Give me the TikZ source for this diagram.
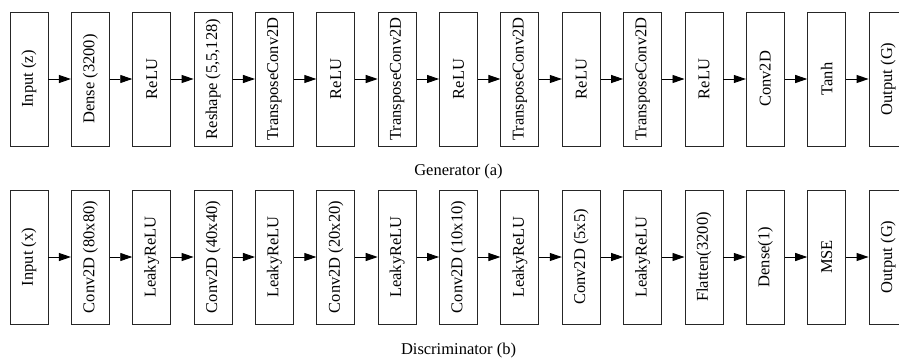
\documentclass[tikz,border=0pt]{standalone}
\usepackage{fontspec}
\setmainfont{Liberation Serif}
\usepackage{graphicx}
\usetikzlibrary{arrows.meta}
\begin{document}
\begin{tikzpicture}[x=1pt,y=1pt,
  layer/.style={draw=black!85, line width=0.9pt, fill=white, minimum width=38pt, minimum height=134pt, inner sep=0pt, font=\fontsize{16.5}{18}\selectfont},
  flow/.style={draw=black, line width=0.9pt, -{Triangle[length=12pt,width=8pt]}},
  caption/.style={font=\fontsize{16.5}{18}\selectfont, inner sep=0pt}]
\useasboundingbox (0,0) rectangle (899,360);
\clip (0,0) rectangle (899,360);
% Generator
\foreach \t [count=\i from 0] in {Input (z),Dense (3200),ReLU,{Reshape (5,5,128)},TransposeConv2D,ReLU,TransposeConv2D,ReLU,TransposeConv2D,ReLU,TransposeConv2D,ReLU,Conv2D,Tanh,Output (G)}{
  \node[layer] (g\i) at ({29+61.36*\i},281) {\rotatebox{90}{\t}};
}
\foreach \i [evaluate=\i as \j using int(\i+1)] in {0,...,13}{
  \draw[flow] (g\i.east) -- (g\j.west);
}
\node[caption] (gcap) at (458.5,188) {Generator (a)};
% Discriminator
\foreach \t [count=\i from 0] in {Input (x),Conv2D (80x80),LeakyReLU,Conv2D (40x40),LeakyReLU,Conv2D (20x20),LeakyReLU,Conv2D (10x10),LeakyReLU,Conv2D (5x5),LeakyReLU,Flatten(3200),Dense(1),MSE,Output (G)}{
  \node[layer] (d\i) at ({29+61.36*\i},103) {\rotatebox{90}{\t}};
}
\foreach \i [evaluate=\i as \j using int(\i+1)] in {0,...,13}{
  \draw[flow] (d\i.east) -- (d\j.west);
}
\node[caption] (dcap) at (458.5,9) {Discriminator (b)};
\end{tikzpicture}
\end{document}
